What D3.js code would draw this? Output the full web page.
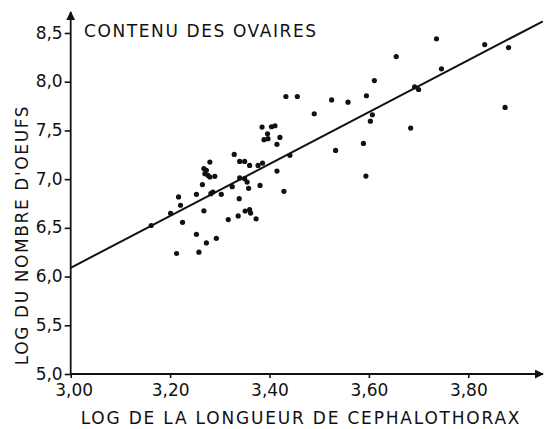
<!DOCTYPE html>
<html>
<head>
<meta charset="utf-8">
<script src="https://cdn.jsdelivr.net/npm/d3@7"></script>
<style>
  body { margin: 0; background: #fff; }
  text { font-family: "DejaVu Sans", sans-serif; fill: #111; }
</style>
</head>
<body>
<div id="chart"></div>
<script>
// log cephalothorax length (x) and log egg number (y)
const logLength = [3.162, 3.201, 3.213, 3.217, 3.221, 3.225, 3.253, 3.253, 3.258, 3.265,
  3.268, 3.273, 3.270, 3.276, 3.280, 3.290, 3.280, 3.268, 3.273, 3.282,
  3.286, 3.293, 3.303, 3.317, 3.325, 3.329, 3.337, 3.339, 3.340, 3.350,
  3.355, 3.358, 3.340, 3.350, 3.360, 3.351, 3.360, 3.362, 3.373, 3.377,
  3.386, 3.381, 3.385, 3.404, 3.411, 3.396, 3.389, 3.397, 3.421, 3.415,
  3.415, 3.429, 3.441, 3.433, 3.456, 3.490, 3.525, 3.558, 3.533, 3.589,
  3.595, 3.594, 3.603, 3.607, 3.611, 3.655, 3.684, 3.692, 3.700, 3.736,
  3.746, 3.833, 3.874, 3.881]
const logEggs = [6.524, 6.650, 6.237, 6.817, 6.732, 6.557, 6.844, 6.434, 6.250, 6.944,
  7.108, 7.090, 7.056, 7.039, 7.022, 7.029, 7.175, 6.675, 6.345, 6.851,
  6.868, 6.393, 6.844, 6.585, 6.923, 7.254, 6.622, 6.800, 7.013, 7.005,
  6.970, 6.906, 7.182, 7.182, 7.141, 6.673, 6.687, 6.652, 6.593, 7.141,
  7.165, 6.936, 7.534, 7.538, 7.548, 7.466, 7.405, 7.415, 7.428, 7.357,
  7.083, 6.875, 7.244, 7.848, 7.848, 7.671, 7.813, 7.790, 7.295, 7.367,
  7.856, 7.032, 7.595, 7.661, 8.012, 8.258, 7.524, 7.948, 7.920, 8.440,
  8.132, 8.381, 7.736, 8.350]

// regression line ends
const fitX = [3.00, 3.95]
const fitY = [6.09, 8.62]

const xTicks = [3.0, 3.2, 3.4, 3.6, 3.8]
const yTicks = [5.0, 5.5, 6.0, 6.5, 7.0, 7.5, 8.0, 8.5]

const w = 544
const h = 429

const fr = d3.formatLocale({decimal: ',', thousands: ' ', grouping: [3], currency: ['', '']})

const svg = d3.select('#chart')
  .append('svg')
    .attr('width', w)
    .attr('height', h)

const x = d3.scaleLinear().domain([3.0, 3.8]).range([70.7, 468.3])
const y = d3.scaleLinear().domain([5, 8.5]).range([374, 33])

// y axis
const yAxis = svg.append('g')
  .attr('transform', 'translate(' + x(3.0) + ',0)')
  .call(d3.axisLeft(y).tickValues(yTicks).tickFormat(fr.format('.1f')).tickSize(6).tickPadding(2))
yAxis.select('.domain').remove()
yAxis.selectAll('line').attr('stroke', '#111').attr('stroke-width', 1.6)
yAxis.selectAll('text').style('font-size', '17px').attr('dy', '0.3em').attr('fill', '#111')

// x axis
const xAxis = svg.append('g')
  .attr('transform', 'translate(0,' + y(5) + ')')
  .call(d3.axisBottom(x).tickValues(xTicks).tickFormat(fr.format('.2f')).tickSize(4).tickPadding(6))
xAxis.select('.domain').remove()
xAxis.selectAll('line').attr('stroke', '#111').attr('stroke-width', 1.6)
xAxis.selectAll('text').style('font-size', '17px').attr('fill', '#111')
// first label sits a little to the right, clear of 5,0
xAxis.selectAll('text').filter(d => d === 3.0).attr('dx', 3)

// axis lines with arrows
svg.append('defs').append('marker')
  .attr('id', 'arrow')
  .attr('viewBox', '0 0 10 10')
  .attr('refX', 9).attr('refY', 5)
  .attr('markerWidth', 5).attr('markerHeight', 5)
  .attr('orient', 'auto')
  .append('path')
    .attr('d', 'M0,0L10,5L0,10Z')
    .attr('fill', '#111')

svg.append('line')
  .attr('x1', x(3.0)).attr('y1', y(5))
  .attr('x2', x(3.0)).attr('y2', 12)
  .attr('stroke', '#111').attr('stroke-width', 1.8)
  .attr('marker-end', 'url(#arrow)')

svg.append('line')
  .attr('x1', x(3.0)).attr('y1', y(5))
  .attr('x2', 543).attr('y2', y(5))
  .attr('stroke', '#111').attr('stroke-width', 1.8)
  .attr('marker-end', 'url(#arrow)')

// regression line
svg.append('line')
  .attr('x1', x(fitX[0])).attr('y1', y(fitY[0]))
  .attr('x2', x(fitX[1])).attr('y2', y(fitY[1]))
  .attr('stroke', '#111').attr('stroke-width', 2)

// points
svg.append('g')
  .selectAll('circle')
  .data(logLength)
  .enter()
  .append('circle')
    .attr('cx', d => x(d))
    .attr('cy', (d, i) => y(logEggs[i]))
    .attr('r', 2.6)
    .attr('fill', '#111')

// titles
svg.append('text')
  .attr('x', 84).attr('y', 37)
  .style('font-size', '17px')
  .style('letter-spacing', '1.6px')
  .text('CONTENU DES OVAIRES')

svg.append('text')
  .attr('x', 301).attr('y', 424)
  .attr('text-anchor', 'middle')
  .style('font-size', '17px')
  .style('letter-spacing', '1.8px')
  .text('LOG DE LA LONGUEUR DE CEPHALOTHORAX')

svg.append('text')
  .attr('transform', 'translate(28,' + 235 + ') rotate(-90)')
  .attr('text-anchor', 'middle')
  .style('font-size', '17px')
  .style('letter-spacing', '1.6px')
  .text("LOG DU NOMBRE D'OEUFS")
</script>
</body>
</html>
